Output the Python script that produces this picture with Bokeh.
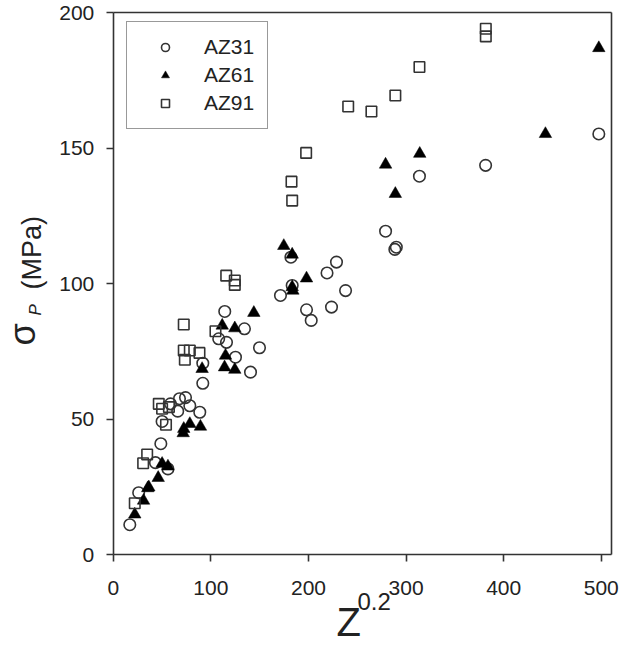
import math
from bokeh.plotting import figure
from bokeh.models import Range1d, Label, Legend, LegendItem, FixedTicker, LinearAxis
from bokeh.embed import file_html
from bokeh.resources import INLINE

# ---- data ----
series_names = ["AZ31", "AZ61", "AZ91"]

az31_x = [16.9, 26, 43.2, 56, 48.7, 50, 58.6, 67.8, 74, 78.4, 66, 88.6, 91.7, 91.7,
          108, 116, 114.2, 125.2, 134.4, 140.6, 149.8, 171.3, 182, 183.3, 198, 202.8,
          219, 223.6, 228.7, 238, 279, 290, 288.5, 313.7, 381.5, 497.5]
az31_y = [11.1, 22.9, 34, 31.7, 41, 49.2, 55.7, 57.6, 58, 55, 53, 52.6, 63.3, 70.7,
          79.7, 78.4, 89.8, 72.9, 83.4, 67.4, 76.4, 95.7, 109.8, 99.4, 90.4, 86.5,
          104, 91.4, 108, 97.5, 119.4, 113.5, 112.7, 139.7, 143.7, 155.3]

az61_x = [22, 31, 35.3, 36.4, 46, 50, 56, 71.6, 72.2, 78.4, 89.3, 91, 114, 115, 124.5,
          111.6, 124.5, 144, 174.7, 183.3, 183.3, 184, 198, 279, 289, 314, 442.8, 497.5]
az61_y = [14.9, 20, 24.6, 24.9, 28.4, 33.6, 32.6, 44.9, 46.5, 48.3, 47.3, 68.6, 69.2,
          73.5, 68.3, 84.6, 83.6, 89.3, 114, 110.8, 98.8, 97.5, 102, 144, 133.2, 148,
          155.3, 187]

az91_x = [22, 30.6, 34.7, 46.6, 50, 57, 54, 72.2, 72.2, 78.4, 88.3, 73.3, 104.7, 115.7,
          124.5, 124.5, 182.6, 183.3, 197.6, 240.7, 264.5, 289, 313.7, 381.7, 381.7]
az91_y = [19, 33.8, 37, 55.7, 53.9, 54.5, 48, 85, 75.4, 75.4, 74.5, 72, 82.5, 103,
          101.2, 99.6, 137.7, 130.7, 148.3, 165.4, 163.6, 169.5, 180, 194.1, 191.3]

x_ticks = [0, 100, 200, 300, 400, 500]
y_ticks = [0, 50, 100, 150, 200]
x_max, y_max = 510.5, 200

FONT = "Liberation Sans"
DARK = "#333333"
TXT = "#222222"

W, H = 635, 648
# plot box in page pixels
BOX_L, BOX_R, BOX_T, BOX_B = 112.8, 611.0, 12.3, 554.3
kx = (BOX_R - BOX_L) / x_max
ky = (BOX_B - BOX_T) / y_max

# The frame covers the whole canvas; axes are pinned at the data edges.
p = figure(width=W, height=H, output_backend="svg", toolbar_location=None,
           title=None, x_axis_type=None, y_axis_type=None,
           x_range=Range1d(-BOX_L / kx, (W - BOX_L) / kx),
           y_range=Range1d(-(H - BOX_B) / ky, BOX_B / ky),
           min_border=0)
p.grid.visible = False
p.outline_line_color = None
p.background_fill_color = "white"
p.border_fill_color = "white"


def style_axis(ax, ticks):
    ax.ticker = FixedTicker(ticks=ticks)
    ax.minor_tick_line_color = None
    ax.major_tick_in = 0
    ax.major_tick_out = 7
    ax.major_tick_line_color = DARK
    ax.major_tick_line_width = 1.6
    ax.axis_line_color = DARK
    ax.axis_line_width = 1.6
    ax.major_label_text_font = FONT
    ax.major_label_text_font_size = "21px"
    ax.major_label_text_color = TXT


xaxis = LinearAxis(fixed_location=0, bounds=(0, x_max))
style_axis(xaxis, x_ticks)
xaxis.major_label_standoff = 19
p.add_layout(xaxis, "below")

yaxis = LinearAxis(fixed_location=0, bounds=(0, y_max))
style_axis(yaxis, y_ticks)
yaxis.major_label_standoff = 12
p.add_layout(yaxis, "left")

# top and right edges of the plot box
top_edge = LinearAxis(fixed_location=y_max, bounds=(0, x_max))
right_edge = LinearAxis(fixed_location=x_max, bounds=(0, y_max))
for ax in (top_edge, right_edge):
    ax.ticker = FixedTicker(ticks=[])
    ax.major_tick_line_color = None
    ax.minor_tick_line_color = None
    ax.major_label_text_color = None
    ax.axis_line_color = DARK
    ax.axis_line_width = 1.6
p.add_layout(top_edge, "above")
p.add_layout(right_edge, "right")

r1 = p.scatter(az31_x, az31_y, marker="circle", size=11.5, fill_color=None,
               line_color=DARK, line_width=1.6)
r2 = p.scatter(az61_x, az61_y, marker="triangle", size=12.5, fill_color="black",
               line_color="black", line_width=0.5)
r3 = p.scatter(az91_x, az91_y, marker="square", size=10.5, fill_color=None,
               line_color=DARK, line_width=1.6)

legend = Legend(items=[LegendItem(label=series_names[0], renderers=[r1]),
                       LegendItem(label=series_names[1], renderers=[r2]),
                       LegendItem(label=series_names[2], renderers=[r3])],
                location=(126, H - 129), padding=13, spacing=4, margin=0,
                glyph_width=50, glyph_height=20, label_standoff=14,
                label_text_font=FONT, label_text_font_size="21px",
                label_text_color=TXT,
                border_line_color=DARK, border_line_width=1.5,
                background_fill_color="white", background_fill_alpha=1)
p.add_layout(legend, "center")

# y axis title: sigma_P (MPa), rotated (screen px from the canvas bottom-left)
p.add_layout(Label(x=22, y=H - 345, x_units="screen", y_units="screen", text="σ",
                   angle=math.pi / 2, text_font=FONT, text_font_size="36px",
                   text_color=TXT, text_align="left", text_baseline="middle"))
p.add_layout(Label(x=35, y=H - 315, x_units="screen", y_units="screen", text="P",
                   angle=math.pi / 2, text_font=FONT, text_font_size="17px",
                   text_font_style="italic", text_color=TXT,
                   text_align="left", text_baseline="middle"))
p.add_layout(Label(x=31, y=H - 289, x_units="screen", y_units="screen", text="(MPa)",
                   angle=math.pi / 2, text_font=FONT, text_font_size="27px",
                   text_color=TXT, text_align="left", text_baseline="middle"))

# x axis title: Z^0.2 (anchors at the glyph centres)
p.add_layout(Label(x=336, y=H - 621, x_units="screen", y_units="screen", text="Z",
                   text_font=FONT, text_font_size="40px", text_color=TXT,
                   text_align="left", text_baseline="middle"))
p.add_layout(Label(x=357, y=H - 601, x_units="screen", y_units="screen", text="0.2",
                   text_font=FONT, text_font_size="24px", text_color=TXT,
                   text_align="left", text_baseline="middle"))

open("out.html", "w").write(file_html(p, INLINE))
